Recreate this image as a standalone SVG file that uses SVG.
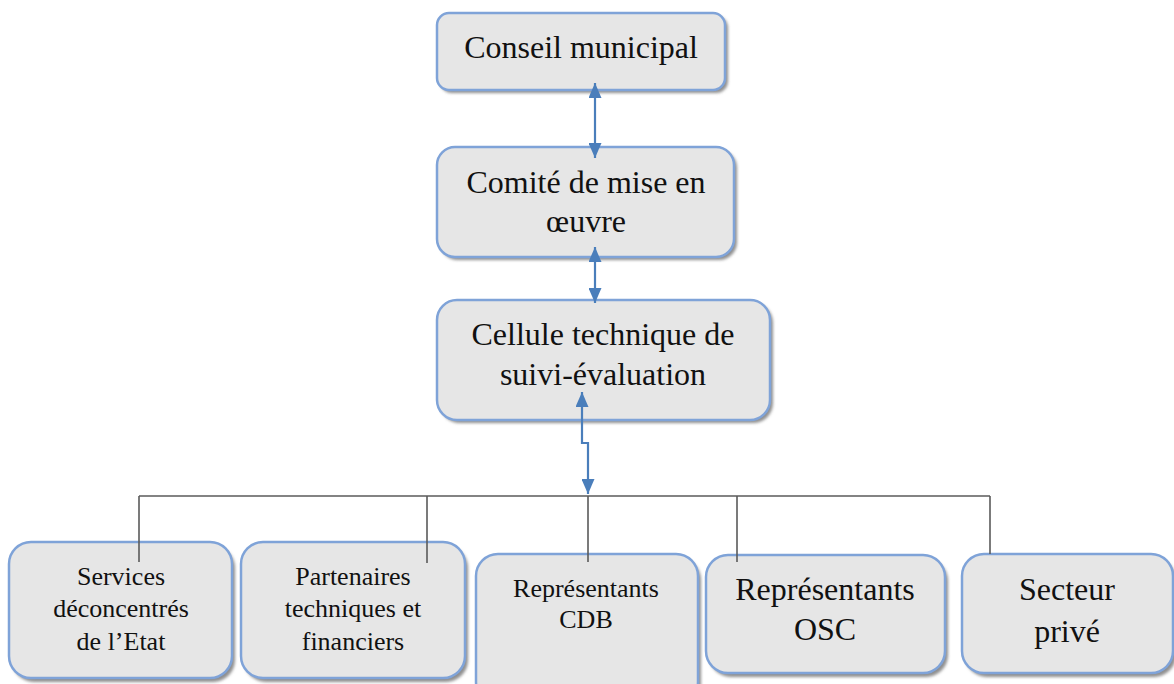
<svg xmlns="http://www.w3.org/2000/svg" width="1174" height="684" viewBox="0 0 1174 684">
<defs>
<style>
.box{fill:#e6e6e6;stroke:#7fa3d8;stroke-width:2.5}
.sh{fill:#8f8f8f;filter:url(#blur)}
.t32{font-family:"Liberation Serif","Times New Roman",serif;font-size:32px;fill:#111;text-anchor:middle}
.t26{font-family:"Liberation Serif","Times New Roman",serif;font-size:26px;fill:#111;text-anchor:middle}
.arr{fill:none;stroke:#4a7ebb;stroke-width:2.2}
.bus{fill:none;stroke:#5a5a5a;stroke-width:1.6}
</style>
<filter id="blur" x="-10%" y="-10%" width="120%" height="120%"><feGaussianBlur stdDeviation="1.5"/></filter>
<marker id="ah" viewBox="0 0 10 10" refX="10" refY="5" markerWidth="15" markerHeight="13" markerUnits="userSpaceOnUse" preserveAspectRatio="none" orient="auto-start-reverse">
<path d="M0,0 L10,5 L0,10 Z" fill="#4a7ebb"/>
</marker>
</defs>
<rect width="1174" height="684" fill="#fff"/>

<g id="node-conseil">
<rect class="sh" x="440" y="16" width="288" height="77" rx="12"/>
<rect class="box" x="437" y="13" width="288" height="77" rx="12"/>
<text class="t32" x="581" y="58">Conseil municipal</text>
</g>

<g id="node-comite">
<rect class="sh" x="440" y="150" width="297" height="110" rx="18"/>
<rect class="box" x="437" y="147" width="297" height="110" rx="18"/>
<text class="t32" x="586" y="193">Comité de mise en</text>
<text class="t32" x="586" y="232">œuvre</text>
</g>

<g id="node-cellule">
<rect class="sh" x="440" y="303" width="333" height="120" rx="20"/>
<rect class="box" x="437" y="300" width="333" height="120" rx="20"/>
<text class="t32" x="603" y="345">Cellule technique de</text>
<text class="t32" x="603" y="385">suivi-évaluation</text>
</g>

<g id="node-services">
<rect class="sh" x="12" y="546" width="223" height="136" rx="22"/>
<rect class="box" x="9" y="542" width="223" height="136" rx="22"/>
<text class="t26" x="121" y="585">Services</text>
<text class="t26" x="121" y="617">déconcentrés</text>
<text class="t26" x="121" y="650">de l’Etat</text>
</g>

<g id="node-partenaires">
<rect class="sh" x="244" y="546" width="224" height="136" rx="22"/>
<rect class="box" x="241" y="542" width="224" height="136" rx="22"/>
<text class="t26" x="353" y="585">Partenaires</text>
<text class="t26" x="353" y="617">techniques et</text>
<text class="t26" x="353" y="650">financiers</text>
</g>

<g id="node-cdb">
<rect class="sh" x="479" y="558" width="222" height="150" rx="22"/>
<rect class="box" x="476" y="554" width="222" height="150" rx="22"/>
<text class="t26" x="586" y="597">Représentants</text>
<text class="t26" x="586" y="628">CDB</text>
</g>

<g id="node-osc">
<rect class="sh" x="709" y="559" width="239" height="118" rx="22"/>
<rect class="box" x="706" y="555" width="239" height="118" rx="22"/>
<text class="t32" x="825" y="600">Représentants</text>
<text class="t32" x="825" y="640">OSC</text>
</g>

<g id="node-secteur">
<rect class="sh" x="965" y="558" width="211" height="119" rx="22"/>
<rect class="box" x="962" y="554" width="211" height="119" rx="22"/>
<text class="t32" x="1067" y="600">Secteur</text>
<text class="t32" x="1067" y="642">privé</text>
</g>

<g id="connectors">
<line class="bus" x1="139" y1="496" x2="990" y2="496"/>
<line class="bus" x1="139" y1="496" x2="139" y2="562"/>
<line class="bus" x1="427" y1="496" x2="427" y2="563"/>
<line class="bus" x1="588" y1="496" x2="588" y2="562"/>
<line class="bus" x1="737" y1="496" x2="737" y2="562"/>
<line class="bus" x1="990" y1="496" x2="990" y2="554"/>
<path class="arr" d="M595,83 L595,158" marker-start="url(#ah)" marker-end="url(#ah)"/>
<path class="arr" d="M595,247 L595,303" marker-start="url(#ah)" marker-end="url(#ah)"/>
<path class="arr" d="M582,392 L582,443 L588,443 L588,494" marker-start="url(#ah)" marker-end="url(#ah)"/>
</g>
</svg>
